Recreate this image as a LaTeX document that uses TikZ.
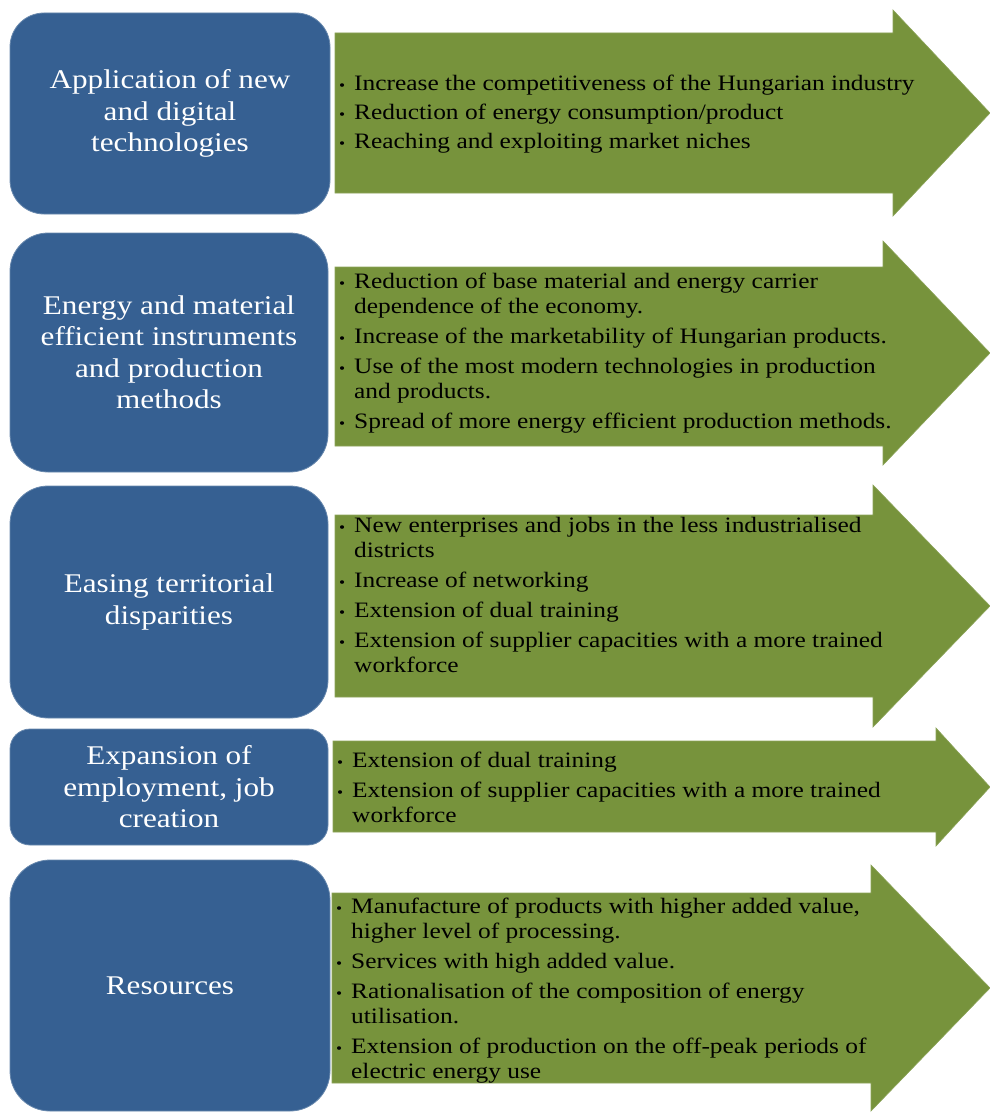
\documentclass[tikz,border=0pt]{standalone}
\usepackage{fontspec}
\setmainfont{Liberation Serif}[FakeStretch=1.155]
\definecolor{boxblue}{HTML}{366092}
\definecolor{arrowgreen}{HTML}{77933C}
\newcommand\bi{\makebox[15pt][l]{\fontsize{15}{15}\selectfont\textbullet}}
\newcommand\ci{\hspace*{15pt}}
\tikzset{
  bluebox/.style={fill=boxblue, draw=boxblue!75!white, line width=0.8pt, text=white,
    align=center, font=\fontsize{27}{31.5}\selectfont, inner sep=0pt},
  greenarrow/.style={fill=arrowgreen, draw=arrowgreen!85!white, line width=0.6pt},
  bullets/.style={anchor=west, align=left, font=\fontsize{22}{25}\selectfont,
    inner sep=0pt, text=black}
}
\begin{document}
\begin{tikzpicture}[x=1pt,y=-1pt]
\useasboundingbox (0,0) rectangle (989,1113);
% blue boxes
\node[bluebox, rounded corners=34pt, minimum width=320pt, minimum height=201pt] (b1) at (170,113.5)
  {Application of new\\and digital\\technologies};
\node[bluebox, rounded corners=38pt, minimum width=318pt, minimum height=239pt] (b2) at (169,352.5)
  {Energy and material\\efficient instruments\\and production\\methods};
\node[bluebox, rounded corners=38pt, minimum width=318pt, minimum height=232pt] (b3) at (169,602)
  {Easing territorial\\disparities};
\node[bluebox, rounded corners=20pt, minimum width=318pt, minimum height=116pt] (b4) at (169,787)
  {Expansion of\\employment, job\\creation};
\node[bluebox, rounded corners=40pt, minimum width=320pt, minimum height=251pt] (b5) at (170,985.5)
  {Resources};
% green arrows
\draw[greenarrow] (335,33) -- (893,33) -- (893,10) -- (990,113) -- (893,216) -- (893,193) -- (335,193) -- cycle;
\draw[greenarrow] (335,267) -- (883,267) -- (883,241) -- (990,353) -- (883,465) -- (883,446) -- (335,446) -- cycle;
\draw[greenarrow] (335,515) -- (873,515) -- (873,485) -- (990,606) -- (873,727) -- (873,697) -- (335,697) -- cycle;
\draw[greenarrow] (333,741) -- (936,741) -- (936,728) -- (990,787) -- (936,846) -- (936,832) -- (333,832) -- cycle;
\draw[greenarrow] (332,893) -- (871,893) -- (871,865) -- (990,988) -- (871,1111) -- (871,1083) -- (332,1083) -- cycle;
% texts
\node[bullets] (t1) at (339,114)
  {\bi Increase the competitiveness of the Hungarian industry\\[4pt]
   \bi Reduction of energy consumption/product\\[4pt]
   \bi Reaching and exploiting market niches};
\node[bullets] (t2) at (339,353)
  {\bi Reduction of base material and energy carrier\\
   \ci dependence of the economy.\\[5pt]
   \bi Increase of the marketability of Hungarian products.\\[5pt]
   \bi Use of the most modern technologies in production\\
   \ci and products.\\[5pt]
   \bi Spread of more energy efficient production methods.};
\node[bullets] (t3) at (339,595)
  {\bi New enterprises and jobs in the less industrialised\\
   \ci districts\\[5pt]
   \bi Increase of networking\\[5pt]
   \bi Extension of dual training\\[5pt]
   \bi Extension of supplier capacities with a more trained\\
   \ci workforce};
\node[bullets] (t4) at (337,787)
  {\bi Extension of dual training\\[5pt]
   \bi Extension of supplier capacities with a more trained\\
   \ci workforce};
\node[bullets] (t5) at (336,991)
  {\bi Manufacture of products with higher added value,\\
   \ci higher level of processing.\\[5pt]
   \bi Services with high added value.\\[5pt]
   \bi Rationalisation of the composition of energy\\
   \ci utilisation.\\[5pt]
   \bi Extension of production on the off-peak periods of\\
   \ci electric energy use};
\end{tikzpicture}
\end{document}
